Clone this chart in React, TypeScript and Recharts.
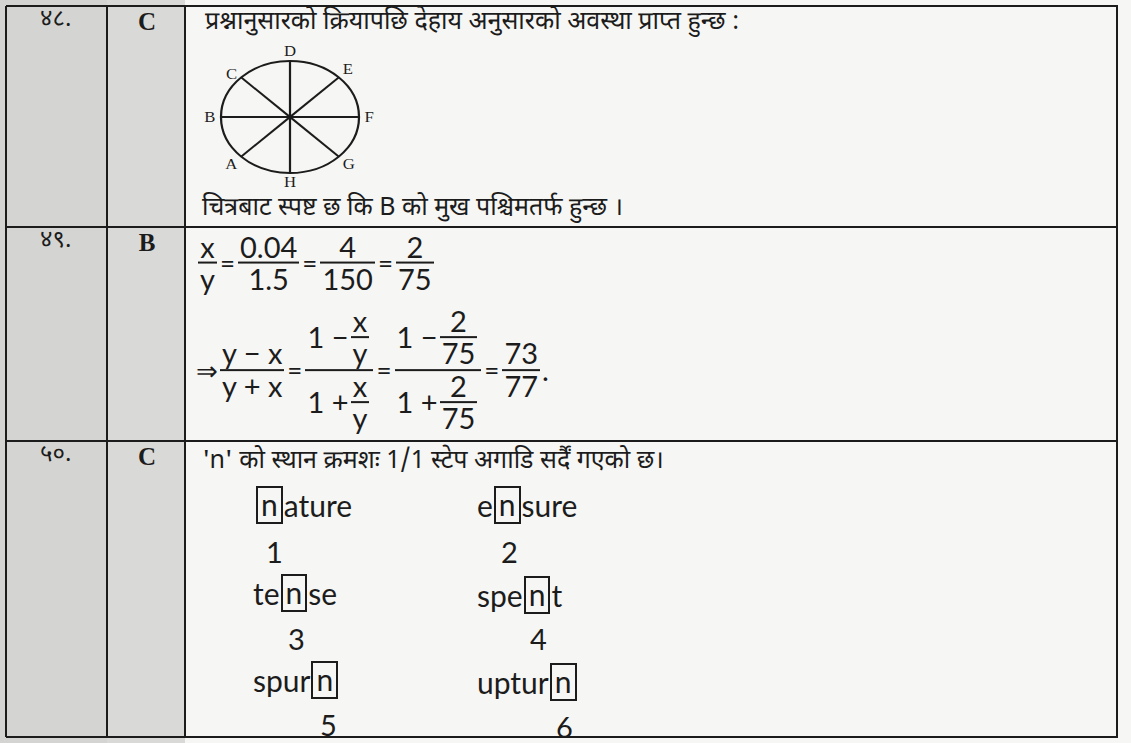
import React from "react";
import { PolarAngleAxis, PolarGrid, RadarChart } from "recharts";

// ---- data ----
const rowNumbers = ["४८.", "४९.", "५०."];
const answers = ["C", "B", "C"];
// compass points, clockwise from the top
const directions = ["D", "E", "F", "G", "H", "A", "B", "C"];
const q48Intro = "प्रश्नानुसारको क्रियापछि देहाय अनुसारको अवस्था प्राप्त हुन्छ :";
const q48Outro = "चित्रबाट स्पष्ट छ कि B को मुख पश्चिमतर्फ हुन्छ ।";
const q50Intro = "'n' को स्थान क्रमशः 1/1 स्टेप अगाडि सर्दैं गएको छ।";
const wordPrefixes = ["", "e", "te", "spe", "spur", "uptur"];
const wordSuffixes = ["ature", "sure", "se", "t", "", ""];
const wordNumbers = ["1", "2", "3", "4", "5", "6"];

const compassData = directions.map((dir) => ({ dir }));

const INK = "#1c1c1c";
const DEVA = "'Noto Sans Devanagari', 'Lohit Devanagari', 'Noto Sans', sans-serif";
const MATH = "Lato, 'Open Sans', sans-serif";
const SERIF = "'Liberation Serif', 'DejaVu Serif', serif";

function Frac({ num, den, size = 29 }: { num: React.ReactNode; den: React.ReactNode; size?: number }) {
  return (
    <span
      style={{
        display: "inline-flex",
        flexDirection: "column",
        alignItems: "center",
        fontSize: size,
        lineHeight: 1.05,
        margin: "0 2px",
      }}
    >
      <span style={{ padding: "0 2px" }}>{num}</span>
      <span style={{ alignSelf: "stretch", borderTop: `2px solid ${INK}` }} />
      <span style={{ padding: "0 2px" }}>{den}</span>
    </span>
  );
}

function Row({ children }: { children: React.ReactNode }) {
  return <span style={{ display: "inline-flex", alignItems: "center" }}>{children}</span>;
}

const Eq = () => <span style={{ fontSize: 26, margin: "0 1px" }}>=</span>;

// ellipse in the scan: centre (290,117), rx 69, ry 56
function Compass() {
  return (
    <div style={{ position: "absolute", left: 200, top: 32, transform: "scale(1.113,0.903)" }}>
      <RadarChart width={180} height={170} data={compassData} cx={90} cy={85} outerRadius={62}>
        <PolarGrid gridType="circle" polarRadius={[62]} stroke={INK} strokeWidth={2} />
        <PolarAngleAxis
          dataKey="dir"
          axisLine={false}
          tickLine={false}
          tickSize={5}
          tick={{ fill: INK, fontSize: 15, fontFamily: SERIF }}
        />
      </RadarChart>
    </div>
  );
}

function Word({ i, left, top }: { i: number; left: number; top: number }) {
  return (
    <div
      style={{
        position: "absolute",
        left,
        top,
        fontFamily: MATH,
        fontSize: 30,
        display: "flex",
        alignItems: "center",
        lineHeight: 1,
      }}
    >
      <span>{wordPrefixes[i]}</span>
      <span style={{ border: `2px solid ${INK}`, padding: "1px 3px 3px", margin: "0 1px" }}>n</span>
      <span>{wordSuffixes[i]}</span>
    </div>
  );
}

function Num({ i, left, top }: { i: number; left: number; top: number }) {
  return (
    <div style={{ position: "absolute", left, top, fontFamily: MATH, fontSize: 29, lineHeight: 1 }}>
      {wordNumbers[i]}
    </div>
  );
}

const rowTops = [6, 227, 441];
const X0 = 6;
const X1 = 107;
const X2 = 185;
const X3 = 1117;
const Y_END = 737;

export default function App() {
  const hLines = [...rowTops, Y_END];
  const vLines = [X0, X1, X2, X3];
  return (
    <div
      style={{
        position: "absolute",
        left: 0,
        top: 0,
        width: 1131,
        height: 743,
        background: "#f6f6f4",
        color: INK,
        overflow: "hidden",
      }}
    >
      <div style={{ position: "absolute", left: 0, top: 0, width: X1, height: 743, background: "#d4d4d2" }} />
      <div style={{ position: "absolute", left: X1, top: 0, width: X2 - X1, height: 743, background: "#d9d9d7" }} />

      {hLines.map((y) => (
        <div key={"h" + y} style={{ position: "absolute", left: X0, top: y - 1, width: X3 - X0 + 1, height: 2, background: INK }} />
      ))}
      {vLines.map((x) => (
        <div key={"v" + x} style={{ position: "absolute", left: x - 1, top: 6, width: 2, height: Y_END - 6, background: INK }} />
      ))}

      {rowTops.map((y, i) => (
        <React.Fragment key={i}>
          <div
            style={{
              position: "absolute",
              left: 40,
              top: y - 2,
              fontFamily: DEVA,
              fontSize: 24,
              whiteSpace: "nowrap",
            }}
          >
            {rowNumbers[i]}
          </div>
          <div
            style={{
              position: "absolute",
              left: 127,
              width: 40,
              top: y + 2,
              textAlign: "center",
              fontFamily: SERIF,
              fontWeight: "bold",
              fontSize: 25,
            }}
          >
            {answers[i]}
          </div>
        </React.Fragment>
      ))}

      {/* Q48 */}
      <div style={{ position: "absolute", left: 205, top: 7, fontFamily: DEVA, fontSize: 25, whiteSpace: "nowrap" }}>
        {q48Intro}
      </div>
      <Compass />
      <div style={{ position: "absolute", left: 202, top: 193, fontFamily: DEVA, fontSize: 25, whiteSpace: "nowrap" }}>
        {q48Outro}
      </div>

      {/* Q49 */}
      <div
        style={{
          position: "absolute",
          left: 196,
          top: 263,
          transform: "translateY(-50%)",
          display: "flex",
          alignItems: "center",
          fontFamily: MATH,
        }}
      >
        <Frac num="x" den="y" />
        <Eq />
        <Frac num="0.04" den="1.5" />
        <Eq />
        <Frac num="4" den="150" />
        <Eq />
        <Frac num="2" den="75" />
      </div>
      <div
        style={{
          position: "absolute",
          left: 196,
          top: 370,
          transform: "translateY(-50%)",
          display: "flex",
          alignItems: "center",
          fontFamily: MATH,
        }}
      >
        <span style={{ fontSize: 26 }}>⇒</span>
        <Frac num="y − x" den="y + x" />
        <Eq />
        <Frac
          num={
            <Row>
              <span style={{ fontSize: 29 }}>1 −</span>
              <Frac num="x" den="y" />
            </Row>
          }
          den={
            <Row>
              <span style={{ fontSize: 29 }}>1 +</span>
              <Frac num="x" den="y" />
            </Row>
          }
        />
        <Eq />
        <Frac
          num={
            <Row>
              <span style={{ fontSize: 29 }}>1 −</span>
              <Frac num="2" den="75" />
            </Row>
          }
          den={
            <Row>
              <span style={{ fontSize: 29 }}>1 +</span>
              <Frac num="2" den="75" />
            </Row>
          }
        />
        <Eq />
        <Frac num="73" den="77" />
        <span style={{ fontSize: 29 }}>.</span>
      </div>

      {/* Q50 */}
      <div style={{ position: "absolute", left: 202, top: 446, fontFamily: DEVA, fontSize: 25, whiteSpace: "nowrap" }}>
        {q50Intro}
      </div>
      <Word i={0} left={255} top={486} />
      <Word i={1} left={477} top={486} />
      <Num i={0} left={266} top={537} />
      <Num i={1} left={501} top={537} />
      <Word i={2} left={253} top={574} />
      <Word i={3} left={477} top={576} />
      <Num i={2} left={288} top={624} />
      <Num i={3} left={530} top={624} />
      <Word i={4} left={253} top={661} />
      <Word i={5} left={477} top={663} />
      <Num i={4} left={320} top={710} />
      <Num i={5} left={556} top={712} />
    </div>
  );
}
